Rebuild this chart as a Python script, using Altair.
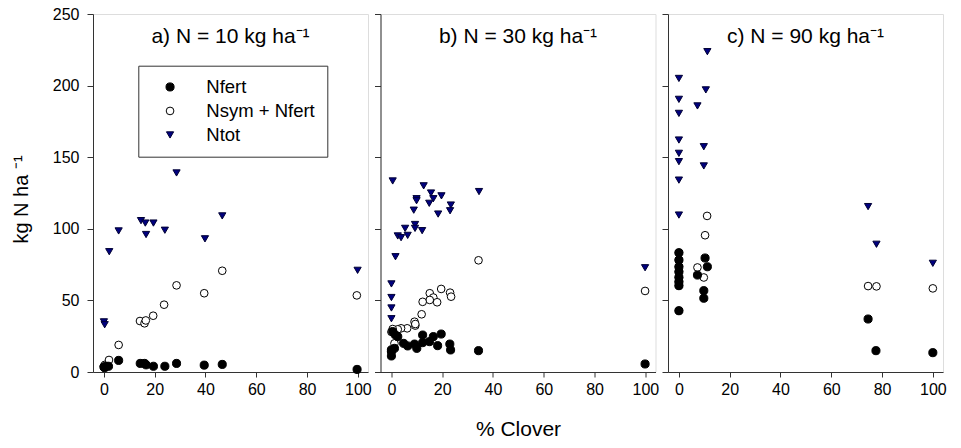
import altair as alt
import pandas as pd

# Panel titles (fertiliser N rate) and series names
panel_keys = ["a", "b", "c"]
panel_titles = ["a) N = 10 kg ha⁻¹", "b) N = 30 kg ha⁻¹", "c) N = 90 kg ha⁻¹"]
series_names = ["Nsym + Nfert", "Nfert", "Ntot"]  # drawing order
legend_order = ["Nfert", "Nsym + Nfert", "Ntot"]
x_ticks = [0, 20, 40, 60, 80, 100]
y_ticks = [0, 50, 100, 150, 200, 250]

# --- a) N = 10 kg/ha ---
a_nfert_x = [0, 0.3, 0.8, 1.8, 5.8, 14.3, 16.0, 16.6, 19.5, 24.0, 28.6, 39.5, 46.6, 99.7]
a_nfert_y = [3.5, 3.0, 4.0, 4.0, 8.1, 6.0, 6.0, 5.0, 4.0, 4.0, 6.0, 4.8, 5.3, 1.8]
a_nsym_x = [0, 0.4, 2.0, 5.8, 14.2, 16.0, 16.5, 19.4, 23.7, 28.6, 39.5, 46.6, 99.6]
a_nsym_y = [4.0, 5.0, 8.4, 18.9, 35.6, 34.0, 36.0, 39.3, 47.0, 60.5, 55.0, 70.7, 53.5]
a_ntot_x = [0, 0.3, 2.1, 5.8, 14.6, 16.3, 16.6, 19.5, 24.0, 28.6, 39.8, 46.6, 99.9]
a_ntot_y = [35, 33, 84, 98.5, 105.7, 104, 96, 104, 99, 139, 93, 109, 71]

# --- b) N = 30 kg/ha ---
b_nfert_x = [34.3, 23.0, 23.3, 19.6, 18.2, 16.5, 15.0, 12.3, 12.3, 9.1, 10.0, 6.4, 4.8, 2.5,
             1.5, 0.5, 1.2, 0, 0, 0, 99.9]
b_nfert_y = [14.9, 19.5, 15.4, 26.5, 18.4, 24.7, 21.2, 25.8, 20.5, 19.5, 16.5, 18.2, 20.0, 24.7,
             26.0, 28.2, 16.5, 14.2, 11.2, 15.5, 5.6]
b_nsym_x = [34.3, 19.6, 23.1, 23.5, 15.1, 16.5, 15.1, 18.0, 12.3, 11.9, 9.1, 9.4, 9.4, 6.2,
            3.8, 2.5, 0.5, 1.2, 0, 99.9]
b_nsym_y = [78.0, 58.0, 55.4, 52.6, 55.0, 52.0, 50.3, 48.7, 49.0, 40.3, 35.1, 32.4, 33.5, 30.5,
            30.5, 29.8, 30.0, 20.0, 28.0, 56.6]
b_ntot_x = [0.5, 12.7, 15.6, 9.9, 16.5, 19.7, 34.5, 9.9, 14.9, 18.4, 23.4, 23.1, 8.8, 9.3,
            9.3, 5.4, 12.1, 2.5, 3.8, 6.4, 1.6, 0, 0, 0, 0, 99.9]
b_ntot_y = [133.4, 130, 125, 121, 121, 123, 126, 119.6, 117.8, 110.3, 116.6, 112.6, 113, 103,
            100.3, 100.3, 98.7, 95, 93.8, 95.4, 80.5, 61.5, 52, 44.7, 37.2, 72.8]

# --- c) N = 90 kg/ha ---
c_nfert_x = [0, 0, 0, 0, 0, 0, 0, 0, 10.3, 11.2, 7.3, 9.8, 9.8, 74.5, 77.6, 100]
c_nfert_y = [83.3, 78.2, 73.5, 70.0, 66.1, 63.0, 60.3, 42.8, 79.6, 73.5, 67.7, 56.8, 51.5,
             37.0, 14.9, 13.5]
c_nsym_x = [0, 0, 0, 0, 0, 0, 0, 0, 11.1, 10.3, 7.3, 9.8, 74.5, 77.8, 100]
c_nsym_y = [83.3, 78.2, 73.5, 70.0, 66.1, 63.0, 60.3, 42.8, 109, 95.5, 73.0, 66.0, 60.0,
            59.8, 58.4]
c_ntot_x = [11.2, 0, 0, 0, 10.6, 7.3, 0, 0, 0, 9.8, 9.8, 0, 0, 74.5, 77.8, 100]
c_ntot_y = [223.7, 205, 190.4, 180.6, 197, 185.8, 162, 152.7, 146.9, 157.3, 143.9, 134,
            109.6, 115.5, 89.2, 75.9]

series_data = {
    "a": {"Nsym + Nfert": (a_nsym_x, a_nsym_y), "Nfert": (a_nfert_x, a_nfert_y),
          "Ntot": (a_ntot_x, a_ntot_y)},
    "b": {"Nsym + Nfert": (b_nsym_x, b_nsym_y), "Nfert": (b_nfert_x, b_nfert_y),
          "Ntot": (b_ntot_x, b_ntot_y)},
    "c": {"Nsym + Nfert": (c_nsym_x, c_nsym_y), "Nfert": (c_nfert_x, c_nfert_y),
          "Ntot": (c_ntot_x, c_ntot_y)},
}

rows = []
for key in panel_keys:
    for s in series_names:
        xs, ys = series_data[key][s]
        for xv, yv in zip(xs, ys):
            rows.append({"panel": key, "series": s, "clover": xv, "n": yv})
df = pd.DataFrame(rows)

shape_scale = alt.Scale(domain=legend_order, range=["circle", "circle", "triangle-down"])
fill_scale = alt.Scale(domain=legend_order, range=["black", "white", "#000080"])
stroke_scale = alt.Scale(domain=legend_order, range=["black", "black", "#000033"])
size_scale = alt.Scale(domain=legend_order, range=[66, 52, 85])

FONT = "Liberation Sans"


def series_legend():
    # boxed key drawn inside panel a
    return alt.Legend(
        title=None, orient="none", legendX=45.3, legendY=51.7,
        strokeColor="#333", fillColor="white", padding=12,
        symbolOffset=10.5, labelOffset=27, rowPadding=5,
        labelFont=FONT, labelFontSize=18.5, labelColor="black",
        symbolStrokeWidth=1,
    )


def make_panel(idx):
    key = panel_keys[idx]
    d = df[df["panel"] == key]
    x = alt.X(
        "clover:Q",
        scale=alt.Scale(domain=[-4.3, 104], nice=False, zero=False),
        axis=alt.Axis(
            values=x_ticks, grid=False, tickSize=5, labelPadding=4,
            labelFontSize=16, labelFont=FONT, labelColor="black",
            domainColor="#333", tickColor="#333",
            title="% Clover" if idx == 1 else None,
            titleFontSize=21, titleFont=FONT, titleFontWeight="normal",
            titleColor="black", titleY=63, titleBaseline="alphabetic",
        ),
    )
    y = alt.Y(
        "n:Q",
        scale=alt.Scale(domain=[0, 250], nice=False),
        axis=alt.Axis(
            values=y_ticks, grid=False, tickSize=6, labelPadding=8,
            labels=(idx == 0), labelFontSize=16, labelFont=FONT, labelColor="black",
            domainColor="#333", tickColor="#333",
            title="kg N ha ⁻¹" if idx == 0 else None,
            titleFontSize=20, titleFont=FONT, titleFontWeight="normal",
            titleColor="black", titleX=-66, titleY=185, titleBaseline="alphabetic",
        ),
    )
    leg = series_legend() if idx == 0 else None
    points = alt.Chart(d).mark_point(filled=True, opacity=1, strokeWidth=1).encode(
        x=x,
        y=y,
        shape=alt.Shape("series:N", scale=shape_scale, legend=leg),
        fill=alt.Fill("series:N", scale=fill_scale, legend=leg),
        stroke=alt.Stroke("series:N", scale=stroke_scale, legend=leg),
        size=alt.Size("series:N", scale=size_scale, legend=leg),
        order=alt.Order("draw:Q"),
    ).transform_calculate(
        draw="datum.series === 'Nsym + Nfert' ? 0 : (datum.series === 'Nfert' ? 1 : 2)"
    )
    label = alt.Chart(pd.DataFrame({"t": [panel_titles[idx]]})).mark_text(
        font=FONT, fontSize=21, align="center", baseline="alphabetic", color="black"
    ).encode(text="t:N", x=alt.value(137.5), y=alt.value(29))
    return alt.layer(points, label).properties(width=275, height=358)


chart = alt.hconcat(
    make_panel(0), make_panel(1), make_panel(2), spacing=12.5, bounds="flush"
).properties(
    autosize=alt.AutoSizeParams(type="none"),
    padding={"left": 93, "top": 14, "right": 868, "bottom": 434},
    background="white",
).configure_view(
    stroke="#333", strokeWidth=1
).configure(font=FONT)

chart.save("out.html", embed_options={"renderer": "svg", "actions": False})
